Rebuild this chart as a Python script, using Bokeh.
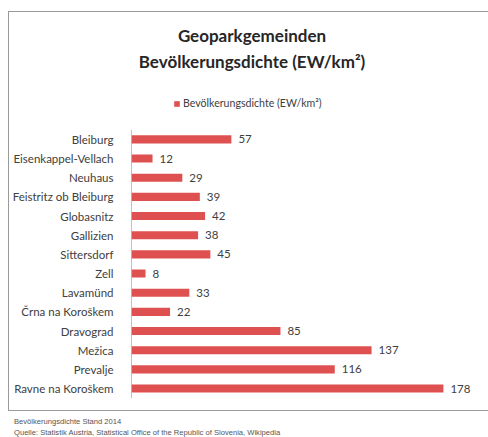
from bokeh.plotting import figure
from bokeh.models import ColumnDataSource, Range1d, Legend, LegendItem, Label, Div, Spacer, FixedTicker
from bokeh.layouts import column, row
from bokeh.core.properties import value
from bokeh.embed import file_html
from bokeh.resources import INLINE

municipalities = ["Bleiburg", "Eisenkappel-Vellach", "Neuhaus", "Feistritz ob Bleiburg",
                  "Globasnitz", "Gallizien", "Sittersdorf", "Zell", "Lavamünd",
                  "Črna na Koroškem", "Dravograd", "Mežica", "Prevalje", "Ravne na Koroškem"]
density = [57, 12, 29, 39, 42, 38, 45, 8, 33, 22, 85, 137, 116, 178]
labels = [str(v) for v in density]

title_lines = ["Geoparkgemeinden", "Bevölkerungsdichte (EW/km²)"]
series_name = "Bevölkerungsdichte (EW/km²)"
footer_lines = ["Bevölkerungsdichte Stand 2014",
                "Quelle: Statistik Austria, Statistical Office of the Republic of Slovenia, Wikipedia"]

BAR = "#df5151"
TXT = "#404040"
FONT = "Lato"

n = len(municipalities)
pos = [n - 1 - i for i in range(n)]          # first category at the top
src = ColumnDataSource(dict(y=pos, val=density, lab=labels))

p = figure(width=479, height=398, output_backend="svg", toolbar_location=None,
           x_axis_location=None,
           x_range=Range1d(0, 204.3), y_range=Range1d(-1.25, 19.62),
           min_border_left=121, min_border_right=0, min_border_top=0, min_border_bottom=0,
           styles={"border-left": "1px solid #9a9a9a", "border-top": "1px solid #9a9a9a",
                   "border-bottom": "1px solid #9a9a9a", "box-sizing": "content-box"})
p.outline_line_color = None
p.xgrid.grid_line_color = None
p.ygrid.grid_line_color = None
p.yaxis.ticker = FixedTicker(ticks=pos)
p.yaxis.major_label_overrides = {y: name for y, name in zip(pos, municipalities)}
p.yaxis.axis_line_color = None
p.yaxis.major_tick_line_color = None
p.yaxis.minor_tick_line_color = None
p.yaxis.major_label_standoff = 12
p.yaxis.major_label_text_font = FONT
p.yaxis.major_label_text_font_size = "11.5px"
p.yaxis.major_label_text_color = TXT

# visible axis line spanning only the category band
p.segment(x0=[0], y0=[-0.5], x1=[0], y1=[n - 0.5], line_color="#868686", line_width=1)

r = p.hbar(y="y", right="val", left=0, height=0.42, source=src, fill_color=BAR, line_color=None)
p.text(x="val", y="y", text="lab", source=src, x_offset=7, text_baseline="middle",
       text_font=value(FONT), text_font_size="11.5px", text_color=TXT)

legend = Legend(items=[LegendItem(label=series_name, renderers=[r])], location=(42, 303),
                orientation="horizontal", glyph_width=7, glyph_height=7, label_standoff=3,
                label_height=7, padding=0, margin=0, border_line_color=None, background_fill_alpha=0,
                label_text_font=FONT, label_text_font_size="10.6px", label_text_color=TXT)
p.add_layout(legend, "center")

for txt, sy in zip(title_lines, [377.5, 351.5]):
    p.add_layout(Label(x=120.5, y=sy, x_units="screen", y_units="screen", text=txt,
                       text_align="center", text_baseline="alphabetic", text_font=FONT,
                       text_font_style="bold", text_font_size="17px", text_color="#262626"))

footer = Div(text="<br>".join(footer_lines), width=480,
             styles={"font-family": "Liberation Sans", "font-size": "7.6px", "color": "#555555",
                     "line-height": "11px", "padding-left": "1px", "white-space": "nowrap"})

layout = row(Spacer(width=8), column(Spacer(height=11), p, footer))
open("out.html", "w").write(file_html(layout, INLINE))
